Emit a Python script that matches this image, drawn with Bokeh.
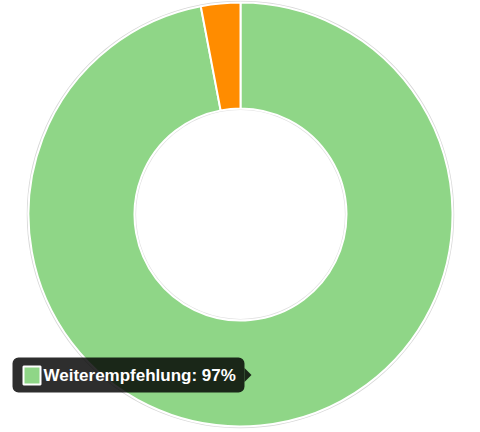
from bokeh.plotting import figure
from bokeh.models import Range1d, BoxAnnotation, Label, ColumnDataSource
from bokeh.embed import file_html
from bokeh.resources import INLINE
import math

categories = ["Weiterempfehlung", "Keine Weiterempfehlung"]
values = [97, 3]
colors = ["#8fd687", "#ff8c00"]

W, H = 480, 432
p = figure(width=W, height=H, output_backend="svg", toolbar_location=None,
           x_range=Range1d(0, W), y_range=Range1d(0, H),
           min_border=0, outline_line_color=None)
p.axis.visible = False
p.grid.visible = False
p.background_fill_color = "white"
p.border_fill_color = "white"

cx, cy = 240, H - 214
r_out, r_in = 212, 106

total = sum(values)
starts, ends = [], []
acc = 0.0
for v in values:
    a0 = math.pi / 2 - 2 * math.pi * acc / total
    acc += v
    a1 = math.pi / 2 - 2 * math.pi * acc / total
    starts.append(a1)
    ends.append(a0)

src = ColumnDataSource(dict(x=[cx] * len(values), y=[cy] * len(values),
                            start=starts, end=ends, color=colors))
p.circle(x=[cx], y=[cy], radius=r_out + 1, fill_color=None,
         line_color="#d8d8d8", line_width=1.5)
p.circle(x=[cx], y=[cy], radius=r_in - 1, fill_color=None,
         line_color="#e0e0e0", line_width=1.2)
p.annular_wedge(x="x", y="y", inner_radius=r_in, outer_radius=r_out,
                start_angle="start", end_angle="end", direction="anticlock",
                fill_color="color", line_color="white", line_width=2, source=src)

# tooltip
tt_left, tt_right, tt_top, tt_bottom = 12, 244, 357, 392
p.add_layout(BoxAnnotation(left=tt_left, right=tt_right, top=H - tt_top, bottom=H - tt_bottom,
                           fill_color="black", fill_alpha=0.82, line_color=None,
                           border_radius=6))
tip_y = (tt_top + tt_bottom) / 2
p.patch(x=[tt_right, tt_right + 7, tt_right], y=[H - tip_y + 7, H - tip_y, H - tip_y - 7],
        fill_color="black", fill_alpha=0.82, line_color=None)
p.add_layout(BoxAnnotation(left=23, right=40, top=H - 366, bottom=H - 384,
                           fill_color=colors[0], fill_alpha=1.0,
                           line_color="white", line_width=2, line_alpha=1.0))
p.add_layout(Label(x=43, y=H - tip_y, text=f"{categories[0]}: {values[0]}%",
                   text_color="white", text_font="Liberation Sans", text_font_size="17px",
                   text_font_style="bold", text_baseline="middle", text_align="left"))

open("out.html", "w").write(file_html(p, INLINE))
